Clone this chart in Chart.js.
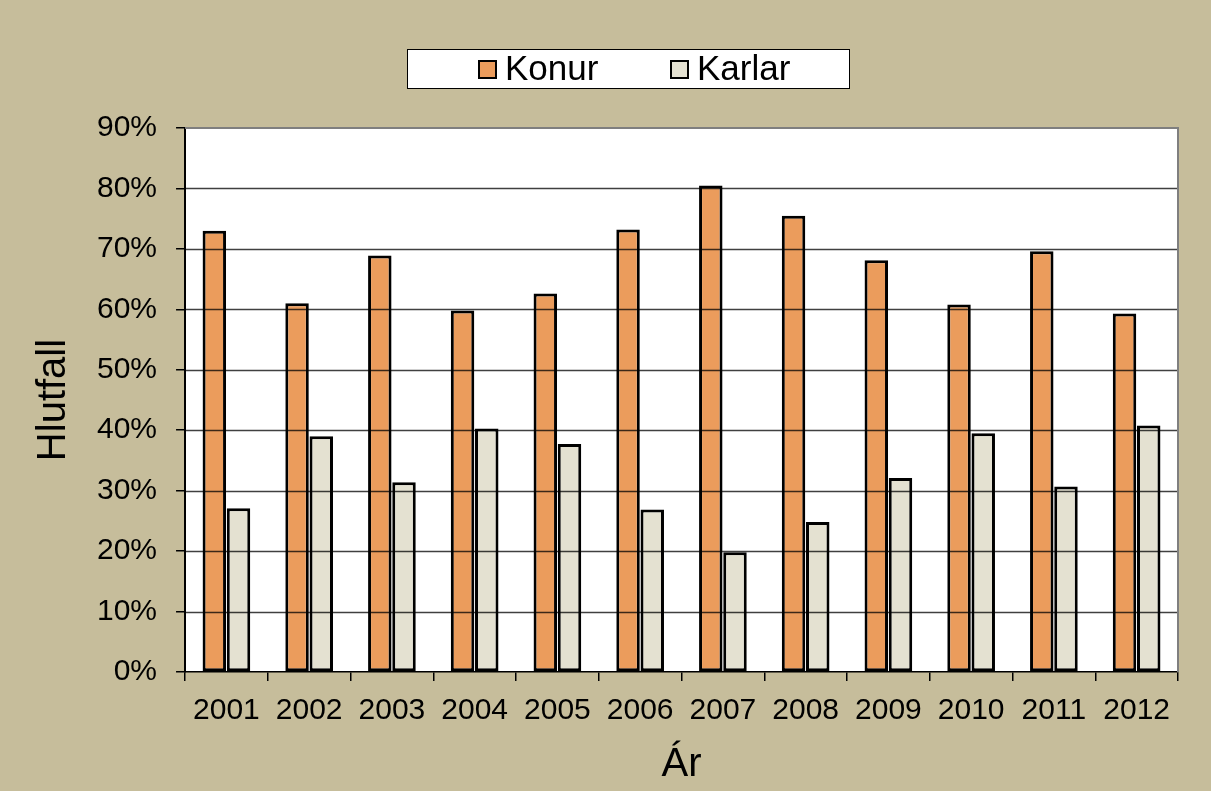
<!DOCTYPE html>
<html>
<head>
<meta charset="utf-8">
<script src="https://cdn.jsdelivr.net/npm/chart.js@4.4.0/dist/chart.umd.min.js"></script>
<style>
  html, body { margin: 0; padding: 0; background: #c6bd9b; }
  #wrap { position: relative; width: 1211px; height: 791px; }
  #legend {
    position: absolute; left: 407px; top: 49px; width: 441px; height: 38px;
    background: #fff; border: 1.5px solid #000;
    font-family: 'Liberation Sans', Arial, sans-serif; font-size: 35px; color: #000;
  }
  .sw { position: absolute; top: 10px; width: 15px; height: 15px; border: 2.5px solid #000; }
  .lbl { position: absolute; white-space: nowrap; }
</style>
</head>
<body>
<div id="wrap">
  <canvas id="chart" width="1211" height="791"></canvas>
  <div id="legend"></div>
</div>
<script>
// values (share, %)
var years = ['2001', '2002', '2003', '2004', '2005', '2006', '2007', '2008', '2009', '2010', '2011', '2012'];
var konur = [73.0, 61.0, 68.9, 59.8, 62.6, 73.2, 80.5, 75.5, 68.1, 60.8, 69.6, 59.3];
var karlar = [27.1, 39.0, 31.4, 40.3, 37.7, 26.9, 19.8, 24.8, 32.1, 39.5, 30.7, 40.8];
var seriesNames = ['Konur', 'Karlar'];
var seriesColors = ['#eb9c5c', '#e4e1d1'];

var font = "'Liberation Sans', Arial, sans-serif";

// white plot area, gray top/right frame
var backdrop = {
  id: 'backdrop',
  beforeDraw: function(chart) {
    var ctx = chart.ctx, a = chart.chartArea;
    ctx.save();
    ctx.fillStyle = '#ffffff';
    ctx.fillRect(a.left, a.top, a.right - a.left, a.bottom - a.top);
    ctx.restore();
  },
  afterDatasetsDraw: function(chart) {
    // gridlines sit on top of the bars in the original
    var ctx = chart.ctx, a = chart.chartArea, y = chart.scales.y;
    ctx.save();
    ctx.strokeStyle = 'rgba(0,0,0,0.75)';
    ctx.lineWidth = 1.3;
    y.ticks.forEach(function(t) {
      if (t.value === 0 || t.value === 90) return;
      var py = Math.round(y.getPixelForValue(t.value)) + 0.5;
      ctx.beginPath();
      ctx.moveTo(a.left, py);
      ctx.lineTo(a.right, py);
      ctx.stroke();
    });
    ctx.strokeStyle = '#7f7f7f';
    ctx.lineWidth = 2;
    ctx.beginPath();
    ctx.moveTo(a.left, a.top);
    ctx.lineTo(a.right, a.top);
    ctx.lineTo(a.right, a.bottom);
    ctx.stroke();
    ctx.restore();
  }
};

new Chart(document.getElementById('chart'), {
  type: 'bar',
  data: {
    labels: years,
    datasets: [
      {
        label: seriesNames[0],
        data: konur,
        backgroundColor: seriesColors[0],
        borderColor: '#000000',
        borderWidth: 3,
        borderSkipped: false
      },
      {
        label: seriesNames[1],
        data: karlar,
        backgroundColor: seriesColors[1],
        borderColor: '#000000',
        borderWidth: 3,
        borderSkipped: false
      }
    ]
  },
  options: {
    responsive: false,
    animation: false,
    layout: { padding: { left: 10, right: 33, top: 128, bottom: 0 } },
    datasets: { bar: { categoryPercentage: 0.585, barPercentage: 0.97 } },
    plugins: {
      tooltip: { enabled: false },
      legend: { display: false }
    },
    scales: {
      x: {
        grid: {
          offset: true,
          drawOnChartArea: false,
          drawTicks: true,
          tickLength: 9,
          color: '#000000',
          lineWidth: 1.5
        },
        border: { color: '#000000', width: 1.5 },
        ticks: {
          color: '#000000',
          font: { family: font, size: 30 },
          padding: 12,
          maxRotation: 0
        },
        title: {
          display: true,
          text: 'Ár',
          color: '#000000',
          font: { family: font, size: 40 },
          padding: { top: 0, bottom: 2 }
        }
      },
      y: {
        min: 0,
        max: 90,
        grid: {
          drawOnChartArea: false,
          drawTicks: true,
          tickLength: 9,
          color: '#000000',
          lineWidth: 1.5
        },
        border: { color: '#000000', width: 2 },
        ticks: {
          stepSize: 10,
          color: '#000000',
          font: { family: font, size: 30 },
          padding: 19,
          callback: function(v) { return v + '%'; }
        },
        title: {
          display: true,
          text: 'Hlutfall',
          color: '#000000',
          font: { family: font, size: 40 },
          padding: { top: 20, bottom: 0 }
        }
      }
    }
  },
  plugins: [backdrop]
});

// legend box, laid out like the original
var lg = document.getElementById('legend');
var swX = [70, 262];
seriesNames.forEach(function(name, i) {
  var sw = document.createElement('div');
  sw.className = 'sw';
  sw.style.left = swX[i] + 'px';
  sw.style.background = seriesColors[i];
  lg.appendChild(sw);
  var t = document.createElement('div');
  t.className = 'lbl';
  t.style.left = (swX[i] + 27) + 'px';
  t.style.top = '-2px';
  t.textContent = name;
  lg.appendChild(t);
});
</script>
</body>
</html>
